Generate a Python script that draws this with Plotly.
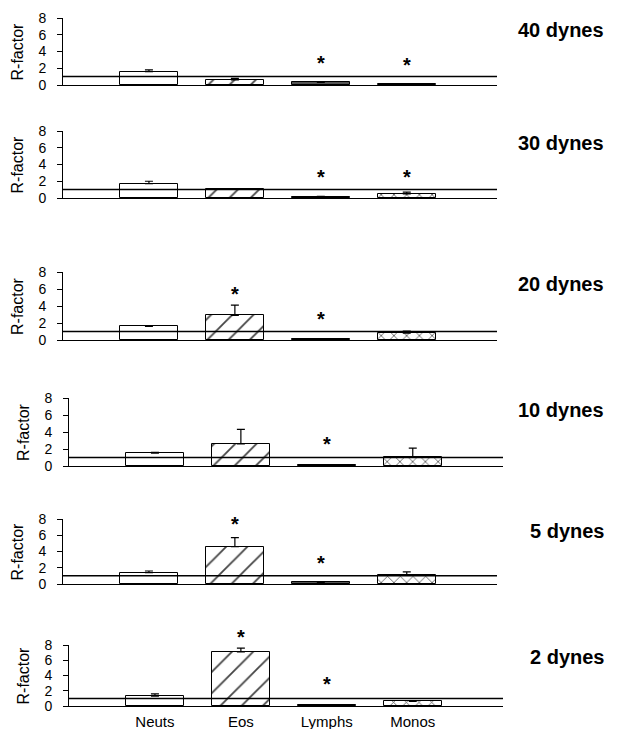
import plotly.graph_objects as go

categories = ["Neuts", "Eos", "Lymphs", "Monos"]
panel_titles = ["40 dynes", "30 dynes", "20 dynes", "10 dynes", "5 dynes", "2 dynes"]

# R-factor means (per panel, order: Neuts, Eos, Lymphs, Monos)
r_40 = [1.6, 0.6, 0.3, 0.1]
r_30 = [1.7, 1.1, 0.15, 0.5]
r_20 = [1.6, 2.9, 0.1, 0.8]
r_10 = [1.5, 2.6, 0.1, 1.1]
r_5 = [1.4, 4.6, 0.2, 1.1]
r_2 = [1.3, 7.1, 0.15, 0.6]

# upper error bars
e_40 = [0.2, 0.2, 0.1, 0.0]
e_30 = [0.3, 0.0, 0.05, 0.2]
e_20 = [0.05, 1.2, 0.05, 0.25]
e_10 = [0.1, 1.7, 0.05, 1.0]
e_5 = [0.2, 1.1, 0.05, 0.4]
e_2 = [0.3, 0.5, 0.05, 0.1]

# significance asterisk heights (None = no asterisk)
s_40 = [None, None, 3.1, 2.9]
s_30 = [None, None, 3.0, 3.0]
s_20 = [None, 5.9, 2.9, None]
s_10 = [None, None, 3.1, None]
s_5 = [None, 7.9, 3.1, None]
s_2 = [None, 9.6, 3.4, None]

reference_level = 1.0
y_max = 8
yticks = [0, 2, 4, 6, 8]

means = [r_40, r_30, r_20, r_10, r_5, r_2]
errs = [e_40, e_30, e_20, e_10, e_5, e_2]
stars = [s_40, s_30, s_20, s_10, s_5, s_2]

W, H = 618, 729
OFF = 8  # page body margin in the browser
# pixel layout (page coords) of each panel: (top of axis, bottom of axis, left x of y-axis)
panel_px = [(18, 85, 63), (131, 198, 63), (272, 340, 63), (398, 466, 69), (519, 584, 63), (645, 706, 69)]
axis_len_px = 434

FONT = "Liberation Sans, Arial, Helvetica, sans-serif"
fill_colors = ["white", "white", "#555555", "white"]
pattern_shapes = ["", "/", "", "x"]
pattern_sizes = [8, 15, 8, 9]
pattern_solidity = [0.2, 0.12, 0.2, 0.16]


def px_x(v):
    return (v - OFF) / W


def px_y(v):
    return 1 - (v - OFF) / H


fig = go.Figure()
for i in range(6):
    n = i + 1
    xa = "x" if n == 1 else f"x{n}"
    ya = "y" if n == 1 else f"y{n}"
    top, bot, left = panel_px[i]
    fig.add_trace(go.Bar(
        x=list(range(len(categories))), y=means[i],
        xaxis=xa, yaxis=ya, width=0.67,
        marker=dict(color=fill_colors, line=dict(color="black", width=1),
                    pattern=dict(shape=pattern_shapes, size=pattern_sizes,
                                 fgcolor="black", fgopacity=1,
                                 fillmode="overlay", solidity=pattern_solidity)),
        error_y=dict(type="data", symmetric=False, array=errs[i],
                     arrayminus=[0] * 4, color="black", thickness=1.2, width=4),
        showlegend=False, hoverinfo="skip",
    ))
    for k, v in enumerate(stars[i]):
        if v is not None:
            fig.add_annotation(text="<b>*</b>", xref=xa, yref=f"{ya} domain",
                               x=k, y=v / y_max,
                               xanchor="center", yanchor="middle", yshift=-4,
                               showarrow=False,
                               font=dict(family=FONT, size=20, color="black"))
    xd = [px_x(left), px_x(left + axis_len_px)]
    yd = [px_y(bot), px_y(top)]
    xkey = "xaxis" if n == 1 else f"xaxis{n}"
    ykey = "yaxis" if n == 1 else f"yaxis{n}"
    fig.update_layout(**{
        xkey: dict(domain=xd, anchor=ya, range=[-1.0, 4.05], automargin=False,
                   showgrid=False, zeroline=False, showline=True,
                   linecolor="black", linewidth=1, ticks="",
                   tickvals=list(range(len(categories))), ticktext=categories,
                   showticklabels=(n == 6), ticklabelstandoff=2,
                   tickfont=dict(family=FONT, size=15, color="black")),
        ykey: dict(domain=yd, anchor=xa, range=[0, y_max], tickvals=yticks, automargin=False,
                   showgrid=False, zeroline=False, showline=True,
                   linecolor="black", linewidth=1, ticks="outside",
                   ticklen=5, tickcolor="black", ticklabelstandoff=8,
                   tickfont=dict(family=FONT, size=14, color="black")),
    })
    fig.add_shape(type="line", xref=f"{xa} domain", yref=ya, x0=0, x1=1,
                  y0=reference_level, y1=reference_level,
                  line=dict(color="black", width=1.5))
    fig.add_annotation(text="R-factor", xref="paper", yref="paper",
                       x=px_x(left - 46), y=px_y((top + bot) / 2),
                       xanchor="center", yanchor="middle", textangle=-90,
                       showarrow=False, font=dict(family=FONT, size=16, color="black"))
    fig.add_annotation(text=f"<b>{panel_titles[i]}</b>", xref="paper", yref="paper",
                       x=px_x(606), y=px_y(top + 12), xanchor="right", yanchor="middle",
                       showarrow=False, font=dict(family=FONT, size=20, color="black"))

fig.update_layout(template="plotly", width=W, height=H,
                  margin=dict(l=0, r=0, t=0, b=0, autoexpand=False),
                  paper_bgcolor="white", plot_bgcolor="white", bargap=0,
                  font=dict(family=FONT, color="black"))
fig.write_html("out.html")
